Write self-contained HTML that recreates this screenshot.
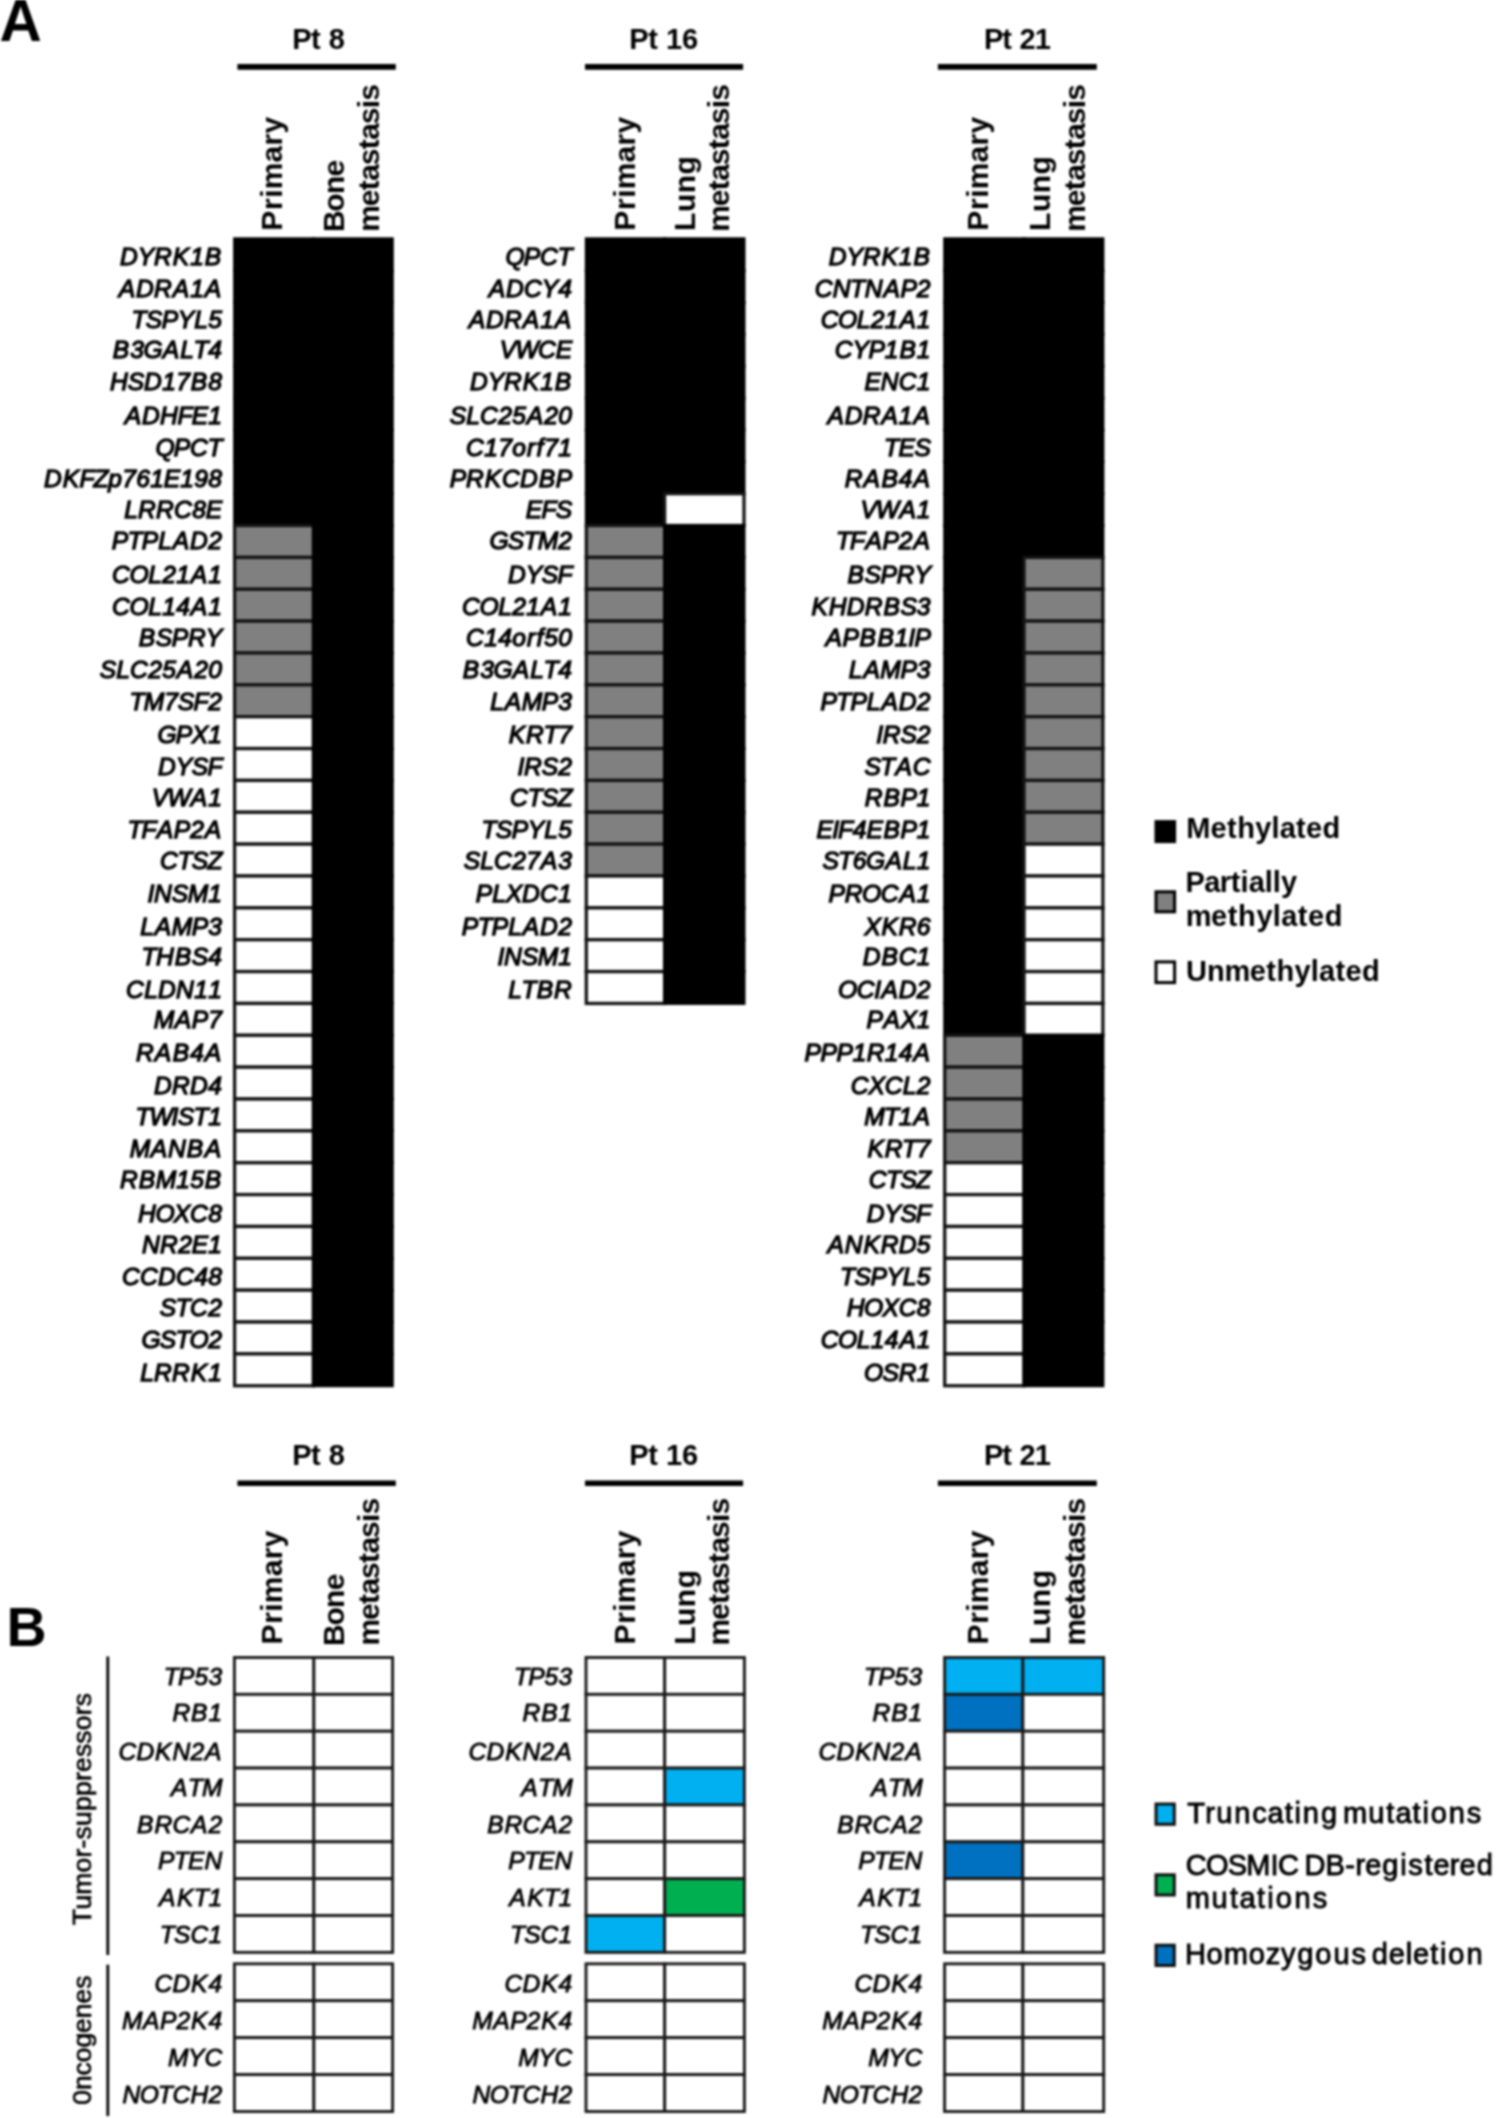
<!DOCTYPE html>
<html lang="en"><head><meta charset="utf-8"><title>Figure</title>
<style>html,body{margin:0;padding:0;background:#fff}svg{display:block;filter:blur(0.8px)}</style></head>
<body>
<svg width="1496" height="2118" viewBox="0 0 1496 2118" font-family="Liberation Sans, Arial, Helvetica, sans-serif" fill="#000">
<rect width="1496" height="2118" fill="#fff"/>
<text x="-0.6" y="41.3" font-size="58.5" font-weight="700">A</text>
<text x="6.4" y="1645.6" font-size="55.5" font-weight="700">B</text>
<text x="292.23 311.07 320.87 328.84" y="48.6" font-size="29" font-weight="700">Pt 8</text>
<line x1="237.4" y1="66.9" x2="395.8" y2="66.9" stroke="#000" stroke-width="5.6"/>
<text transform="translate(281.80,231.14) rotate(-90)" x="0.39 21.20 33.27 41.78 68.61 85.68 97.73" y="0" font-size="30" font-weight="700">Primary</text>
<text transform="translate(344.30,231.14) rotate(-90)" x="-0.99 19.37 37.07 54.62" y="0" font-size="30" font-weight="700">Bone</text>
<text transform="translate(378.50,231.11) rotate(-90)" x="-0.63 24.89 40.94 50.30 65.94 81.99 91.35 106.98 122.89 130.44" y="0" font-size="30" font-weight="700">metastasis</text>
<text x="629.33 648.17 657.97 665.94 681.94" y="48.6" font-size="29" font-weight="700">Pt 16</text>
<line x1="585.0" y1="66.9" x2="743.1" y2="66.9" stroke="#000" stroke-width="5.6"/>
<text transform="translate(635.00,231.14) rotate(-90)" x="0.39 21.20 33.27 41.78 68.61 85.68 97.73" y="0" font-size="30" font-weight="700">Primary</text>
<text transform="translate(694.60,231.14) rotate(-90)" x="0.23 19.03 37.82 56.62" y="0" font-size="30" font-weight="700">Lung</text>
<text transform="translate(729.10,231.11) rotate(-90)" x="-0.63 24.89 40.94 50.30 65.94 81.99 91.35 106.98 122.89 130.44" y="0" font-size="30" font-weight="700">metastasis</text>
<text x="983.99 1002.35 1011.84 1019.39 1034.84" y="48.6" font-size="29" font-weight="700">Pt 21</text>
<line x1="937.9" y1="66.9" x2="1096.8" y2="66.9" stroke="#000" stroke-width="5.6"/>
<text transform="translate(987.50,231.14) rotate(-90)" x="0.39 21.20 33.27 41.78 68.61 85.68 97.73" y="0" font-size="30" font-weight="700">Primary</text>
<text transform="translate(1050.40,231.14) rotate(-90)" x="0.23 19.03 37.82 56.62" y="0" font-size="30" font-weight="700">Lung</text>
<text transform="translate(1084.70,231.11) rotate(-90)" x="-0.63 24.89 40.94 50.30 65.94 81.99 91.35 106.98 122.89 130.44" y="0" font-size="30" font-weight="700">metastasis</text>
<rect x="234.6" y="238.80" width="78.8" height="31.86" fill="#000000" stroke="#000000" stroke-width="3.0"/>
<rect x="234.6" y="270.66" width="78.8" height="31.86" fill="#000000" stroke="#000000" stroke-width="3.0"/>
<rect x="234.6" y="302.52" width="78.8" height="31.86" fill="#000000" stroke="#000000" stroke-width="3.0"/>
<rect x="234.6" y="334.38" width="78.8" height="31.86" fill="#000000" stroke="#000000" stroke-width="3.0"/>
<rect x="234.6" y="366.24" width="78.8" height="31.86" fill="#000000" stroke="#000000" stroke-width="3.0"/>
<rect x="234.6" y="398.10" width="78.8" height="31.86" fill="#000000" stroke="#000000" stroke-width="3.0"/>
<rect x="234.6" y="429.96" width="78.8" height="31.86" fill="#000000" stroke="#000000" stroke-width="3.0"/>
<rect x="234.6" y="461.82" width="78.8" height="31.86" fill="#000000" stroke="#000000" stroke-width="3.0"/>
<rect x="234.6" y="493.68" width="78.8" height="31.86" fill="#000000" stroke="#000000" stroke-width="3.0"/>
<rect x="234.6" y="525.54" width="78.8" height="31.86" fill="#808080" stroke="#141414" stroke-width="3.3"/>
<rect x="234.6" y="557.40" width="78.8" height="31.86" fill="#808080" stroke="#141414" stroke-width="3.3"/>
<rect x="234.6" y="589.26" width="78.8" height="31.86" fill="#808080" stroke="#141414" stroke-width="3.3"/>
<rect x="234.6" y="621.12" width="78.8" height="31.86" fill="#808080" stroke="#141414" stroke-width="3.3"/>
<rect x="234.6" y="652.98" width="78.8" height="31.86" fill="#808080" stroke="#141414" stroke-width="3.3"/>
<rect x="234.6" y="684.84" width="78.8" height="31.86" fill="#808080" stroke="#141414" stroke-width="3.3"/>
<rect x="234.6" y="716.70" width="78.8" height="31.86" fill="#ffffff" stroke="#141414" stroke-width="3.3"/>
<rect x="234.6" y="748.56" width="78.8" height="31.86" fill="#ffffff" stroke="#141414" stroke-width="3.3"/>
<rect x="234.6" y="780.42" width="78.8" height="31.86" fill="#ffffff" stroke="#141414" stroke-width="3.3"/>
<rect x="234.6" y="812.28" width="78.8" height="31.86" fill="#ffffff" stroke="#141414" stroke-width="3.3"/>
<rect x="234.6" y="844.14" width="78.8" height="31.86" fill="#ffffff" stroke="#141414" stroke-width="3.3"/>
<rect x="234.6" y="876.00" width="78.8" height="31.86" fill="#ffffff" stroke="#141414" stroke-width="3.3"/>
<rect x="234.6" y="907.86" width="78.8" height="31.86" fill="#ffffff" stroke="#141414" stroke-width="3.3"/>
<rect x="234.6" y="939.72" width="78.8" height="31.86" fill="#ffffff" stroke="#141414" stroke-width="3.3"/>
<rect x="234.6" y="971.58" width="78.8" height="31.86" fill="#ffffff" stroke="#141414" stroke-width="3.3"/>
<rect x="234.6" y="1003.44" width="78.8" height="31.86" fill="#ffffff" stroke="#141414" stroke-width="3.3"/>
<rect x="234.6" y="1035.30" width="78.8" height="31.86" fill="#ffffff" stroke="#141414" stroke-width="3.3"/>
<rect x="234.6" y="1067.16" width="78.8" height="31.86" fill="#ffffff" stroke="#141414" stroke-width="3.3"/>
<rect x="234.6" y="1099.02" width="78.8" height="31.86" fill="#ffffff" stroke="#141414" stroke-width="3.3"/>
<rect x="234.6" y="1130.88" width="78.8" height="31.86" fill="#ffffff" stroke="#141414" stroke-width="3.3"/>
<rect x="234.6" y="1162.74" width="78.8" height="31.86" fill="#ffffff" stroke="#141414" stroke-width="3.3"/>
<rect x="234.6" y="1194.60" width="78.8" height="31.86" fill="#ffffff" stroke="#141414" stroke-width="3.3"/>
<rect x="234.6" y="1226.46" width="78.8" height="31.86" fill="#ffffff" stroke="#141414" stroke-width="3.3"/>
<rect x="234.6" y="1258.32" width="78.8" height="31.86" fill="#ffffff" stroke="#141414" stroke-width="3.3"/>
<rect x="234.6" y="1290.18" width="78.8" height="31.86" fill="#ffffff" stroke="#141414" stroke-width="3.3"/>
<rect x="234.6" y="1322.04" width="78.8" height="31.86" fill="#ffffff" stroke="#141414" stroke-width="3.3"/>
<rect x="234.6" y="1353.90" width="78.8" height="31.86" fill="#ffffff" stroke="#141414" stroke-width="3.3"/>
<rect x="313.4" y="238.80" width="78.9" height="31.86" fill="#000000" stroke="#000000" stroke-width="3.0"/>
<rect x="313.4" y="270.66" width="78.9" height="31.86" fill="#000000" stroke="#000000" stroke-width="3.0"/>
<rect x="313.4" y="302.52" width="78.9" height="31.86" fill="#000000" stroke="#000000" stroke-width="3.0"/>
<rect x="313.4" y="334.38" width="78.9" height="31.86" fill="#000000" stroke="#000000" stroke-width="3.0"/>
<rect x="313.4" y="366.24" width="78.9" height="31.86" fill="#000000" stroke="#000000" stroke-width="3.0"/>
<rect x="313.4" y="398.10" width="78.9" height="31.86" fill="#000000" stroke="#000000" stroke-width="3.0"/>
<rect x="313.4" y="429.96" width="78.9" height="31.86" fill="#000000" stroke="#000000" stroke-width="3.0"/>
<rect x="313.4" y="461.82" width="78.9" height="31.86" fill="#000000" stroke="#000000" stroke-width="3.0"/>
<rect x="313.4" y="493.68" width="78.9" height="31.86" fill="#000000" stroke="#000000" stroke-width="3.0"/>
<rect x="313.4" y="525.54" width="78.9" height="31.86" fill="#000000" stroke="#000000" stroke-width="3.0"/>
<rect x="313.4" y="557.40" width="78.9" height="31.86" fill="#000000" stroke="#000000" stroke-width="3.0"/>
<rect x="313.4" y="589.26" width="78.9" height="31.86" fill="#000000" stroke="#000000" stroke-width="3.0"/>
<rect x="313.4" y="621.12" width="78.9" height="31.86" fill="#000000" stroke="#000000" stroke-width="3.0"/>
<rect x="313.4" y="652.98" width="78.9" height="31.86" fill="#000000" stroke="#000000" stroke-width="3.0"/>
<rect x="313.4" y="684.84" width="78.9" height="31.86" fill="#000000" stroke="#000000" stroke-width="3.0"/>
<rect x="313.4" y="716.70" width="78.9" height="31.86" fill="#000000" stroke="#000000" stroke-width="3.0"/>
<rect x="313.4" y="748.56" width="78.9" height="31.86" fill="#000000" stroke="#000000" stroke-width="3.0"/>
<rect x="313.4" y="780.42" width="78.9" height="31.86" fill="#000000" stroke="#000000" stroke-width="3.0"/>
<rect x="313.4" y="812.28" width="78.9" height="31.86" fill="#000000" stroke="#000000" stroke-width="3.0"/>
<rect x="313.4" y="844.14" width="78.9" height="31.86" fill="#000000" stroke="#000000" stroke-width="3.0"/>
<rect x="313.4" y="876.00" width="78.9" height="31.86" fill="#000000" stroke="#000000" stroke-width="3.0"/>
<rect x="313.4" y="907.86" width="78.9" height="31.86" fill="#000000" stroke="#000000" stroke-width="3.0"/>
<rect x="313.4" y="939.72" width="78.9" height="31.86" fill="#000000" stroke="#000000" stroke-width="3.0"/>
<rect x="313.4" y="971.58" width="78.9" height="31.86" fill="#000000" stroke="#000000" stroke-width="3.0"/>
<rect x="313.4" y="1003.44" width="78.9" height="31.86" fill="#000000" stroke="#000000" stroke-width="3.0"/>
<rect x="313.4" y="1035.30" width="78.9" height="31.86" fill="#000000" stroke="#000000" stroke-width="3.0"/>
<rect x="313.4" y="1067.16" width="78.9" height="31.86" fill="#000000" stroke="#000000" stroke-width="3.0"/>
<rect x="313.4" y="1099.02" width="78.9" height="31.86" fill="#000000" stroke="#000000" stroke-width="3.0"/>
<rect x="313.4" y="1130.88" width="78.9" height="31.86" fill="#000000" stroke="#000000" stroke-width="3.0"/>
<rect x="313.4" y="1162.74" width="78.9" height="31.86" fill="#000000" stroke="#000000" stroke-width="3.0"/>
<rect x="313.4" y="1194.60" width="78.9" height="31.86" fill="#000000" stroke="#000000" stroke-width="3.0"/>
<rect x="313.4" y="1226.46" width="78.9" height="31.86" fill="#000000" stroke="#000000" stroke-width="3.0"/>
<rect x="313.4" y="1258.32" width="78.9" height="31.86" fill="#000000" stroke="#000000" stroke-width="3.0"/>
<rect x="313.4" y="1290.18" width="78.9" height="31.86" fill="#000000" stroke="#000000" stroke-width="3.0"/>
<rect x="313.4" y="1322.04" width="78.9" height="31.86" fill="#000000" stroke="#000000" stroke-width="3.0"/>
<rect x="313.4" y="1353.90" width="78.9" height="31.86" fill="#000000" stroke="#000000" stroke-width="3.0"/>
<text x="120.12 137.80 154.12 172.80 190.16 204.80" y="265.0" font-size="24.6" font-weight="400" font-style="italic" stroke="#000" stroke-width="1.3">DYRK1B</text>
<text x="118.80 136.12 154.12 172.80 190.16 204.80" y="296.6" font-size="24.6" font-weight="400" font-style="italic" stroke="#000" stroke-width="1.3">ADRA1A</text>
<text x="131.49 145.80 161.80 177.80 194.16 208.16" y="327.7" font-size="24.6" font-weight="400" font-style="italic" stroke="#000" stroke-width="1.3">TSPYL5</text>
<text x="112.80 130.16 143.43 162.80 180.16 193.49 208.16" y="358.3" font-size="24.6" font-weight="400" font-style="italic" stroke="#000" stroke-width="1.3">B3GALT4</text>
<text x="110.12 127.80 144.12 162.16 176.16 190.80 208.16" y="390.4" font-size="24.6" font-weight="400" font-style="italic" stroke="#000" stroke-width="1.3">HSD17B8</text>
<text x="124.80 142.12 160.12 177.49 191.80 208.16" y="424.1" font-size="24.6" font-weight="400" font-style="italic" stroke="#000" stroke-width="1.3">ADHFE1</text>
<text x="155.43 173.80 190.12 207.49" y="455.6" font-size="24.6" font-weight="400" font-style="italic" stroke="#000" stroke-width="1.3">QPCT</text>
<text x="44.12 62.80 79.49 93.49 108.16 122.16 136.16 150.16 163.80 180.16 194.16 208.16" y="486.7" font-size="24.6" font-weight="400" font-style="italic" stroke="#000" stroke-width="1.3">DKFZp761E198</text>
<text x="124.16 138.12 156.12 174.12 192.16 205.80" y="518.4" font-size="24.6" font-weight="400" font-style="italic" stroke="#000" stroke-width="1.3">LRRC8E</text>
<text x="111.80 127.49 141.80 158.16 172.80 190.12 208.16" y="548.8" font-size="24.6" font-weight="400" font-style="italic" stroke="#000" stroke-width="1.3">PTPLAD2</text>
<text x="112.12 129.43 148.16 162.16 176.16 190.80 208.16" y="583.3" font-size="24.6" font-weight="400" font-style="italic" stroke="#000" stroke-width="1.3">COL21A1</text>
<text x="112.12 129.43 148.16 162.16 176.16 190.80 208.16" y="615.4" font-size="24.6" font-weight="400" font-style="italic" stroke="#000" stroke-width="1.3">COL14A1</text>
<text x="138.80 155.80 171.80 188.12 205.80" y="646.0" font-size="24.6" font-weight="400" font-style="italic" stroke="#000" stroke-width="1.3">BSPRY</text>
<text x="99.80 116.16 130.12 148.16 162.16 176.80 194.16 208.16" y="678.1" font-size="24.6" font-weight="400" font-style="italic" stroke="#000" stroke-width="1.3">SLC25A20</text>
<text x="129.49 143.75 164.16 177.80 193.49 208.16" y="709.8" font-size="24.6" font-weight="400" font-style="italic" stroke="#000" stroke-width="1.3">TM7SF2</text>
<text x="157.43 175.80 191.80 208.16" y="743.3" font-size="24.6" font-weight="400" font-style="italic" stroke="#000" stroke-width="1.3">GPX1</text>
<text x="158.12 175.80 191.80 207.49" y="774.7" font-size="24.6" font-weight="400" font-style="italic" stroke="#000" stroke-width="1.3">DYSF</text>
<text x="151.80 167.39 190.80 208.16" y="806.0" font-size="24.6" font-weight="400" font-style="italic" stroke="#000" stroke-width="1.3">VWA1</text>
<text x="127.49 141.49 156.80 173.80 190.16 204.80" y="837.5" font-size="24.6" font-weight="400" font-style="italic" stroke="#000" stroke-width="1.3">TFAP2A</text>
<text x="160.12 177.49 191.80 207.49" y="868.6" font-size="24.6" font-weight="400" font-style="italic" stroke="#000" stroke-width="1.3">CTSZ</text>
<text x="147.58 154.12 171.80 187.75 208.16" y="902.3" font-size="24.6" font-weight="400" font-style="italic" stroke="#000" stroke-width="1.3">INSM1</text>
<text x="140.16 154.80 171.75 191.80 208.16" y="934.8" font-size="24.6" font-weight="400" font-style="italic" stroke="#000" stroke-width="1.3">LAMP3</text>
<text x="141.49 156.12 174.80 191.80 208.16" y="964.8" font-size="24.6" font-weight="400" font-style="italic" stroke="#000" stroke-width="1.3">THBS4</text>
<text x="126.12 144.16 158.12 176.12 194.16 208.16" y="997.9" font-size="24.6" font-weight="400" font-style="italic" stroke="#000" stroke-width="1.3">CLDN11</text>
<text x="153.75 174.80 191.80 208.16" y="1028.0" font-size="24.6" font-weight="400" font-style="italic" stroke="#000" stroke-width="1.3">MAP7</text>
<text x="136.12 154.80 172.80 190.16 204.80" y="1061.4" font-size="24.6" font-weight="400" font-style="italic" stroke="#000" stroke-width="1.3">RAB4A</text>
<text x="154.12 172.12 190.12 208.16" y="1093.7" font-size="24.6" font-weight="400" font-style="italic" stroke="#000" stroke-width="1.3">DRD4</text>
<text x="135.49 149.39 171.58 177.80 193.49 208.16" y="1125.2" font-size="24.6" font-weight="400" font-style="italic" stroke="#000" stroke-width="1.3">TWIST1</text>
<text x="129.75 150.80 168.12 186.80 204.80" y="1156.7" font-size="24.6" font-weight="400" font-style="italic" stroke="#000" stroke-width="1.3">MANBA</text>
<text x="120.12 138.80 155.75 176.16 190.16 204.80" y="1188.4" font-size="24.6" font-weight="400" font-style="italic" stroke="#000" stroke-width="1.3">RBM15B</text>
<text x="138.12 155.43 173.80 190.12 208.16" y="1221.5" font-size="24.6" font-weight="400" font-style="italic" stroke="#000" stroke-width="1.3">HOXC8</text>
<text x="142.12 160.12 178.16 191.80 208.16" y="1253.0" font-size="24.6" font-weight="400" font-style="italic" stroke="#000" stroke-width="1.3">NR2E1</text>
<text x="122.12 140.12 158.12 176.12 194.16 208.16" y="1284.6" font-size="24.6" font-weight="400" font-style="italic" stroke="#000" stroke-width="1.3">CCDC48</text>
<text x="159.80 175.49 190.12 208.16" y="1315.7" font-size="24.6" font-weight="400" font-style="italic" stroke="#000" stroke-width="1.3">STC2</text>
<text x="141.43 159.80 175.49 189.43 208.16" y="1347.8" font-size="24.6" font-weight="400" font-style="italic" stroke="#000" stroke-width="1.3">GSTO2</text>
<text x="140.16 154.12 172.12 190.80 208.16" y="1380.9" font-size="24.6" font-weight="400" font-style="italic" stroke="#000" stroke-width="1.3">LRRK1</text>
<rect x="586.3" y="238.80" width="78.3" height="31.86" fill="#000000" stroke="#000000" stroke-width="3.0"/>
<rect x="586.3" y="270.66" width="78.3" height="31.86" fill="#000000" stroke="#000000" stroke-width="3.0"/>
<rect x="586.3" y="302.52" width="78.3" height="31.86" fill="#000000" stroke="#000000" stroke-width="3.0"/>
<rect x="586.3" y="334.38" width="78.3" height="31.86" fill="#000000" stroke="#000000" stroke-width="3.0"/>
<rect x="586.3" y="366.24" width="78.3" height="31.86" fill="#000000" stroke="#000000" stroke-width="3.0"/>
<rect x="586.3" y="398.10" width="78.3" height="31.86" fill="#000000" stroke="#000000" stroke-width="3.0"/>
<rect x="586.3" y="429.96" width="78.3" height="31.86" fill="#000000" stroke="#000000" stroke-width="3.0"/>
<rect x="586.3" y="461.82" width="78.3" height="31.86" fill="#000000" stroke="#000000" stroke-width="3.0"/>
<rect x="586.3" y="493.68" width="78.3" height="31.86" fill="#000000" stroke="#000000" stroke-width="3.0"/>
<rect x="586.3" y="525.54" width="78.3" height="31.86" fill="#808080" stroke="#141414" stroke-width="3.3"/>
<rect x="586.3" y="557.40" width="78.3" height="31.86" fill="#808080" stroke="#141414" stroke-width="3.3"/>
<rect x="586.3" y="589.26" width="78.3" height="31.86" fill="#808080" stroke="#141414" stroke-width="3.3"/>
<rect x="586.3" y="621.12" width="78.3" height="31.86" fill="#808080" stroke="#141414" stroke-width="3.3"/>
<rect x="586.3" y="652.98" width="78.3" height="31.86" fill="#808080" stroke="#141414" stroke-width="3.3"/>
<rect x="586.3" y="684.84" width="78.3" height="31.86" fill="#808080" stroke="#141414" stroke-width="3.3"/>
<rect x="586.3" y="716.70" width="78.3" height="31.86" fill="#808080" stroke="#141414" stroke-width="3.3"/>
<rect x="586.3" y="748.56" width="78.3" height="31.86" fill="#808080" stroke="#141414" stroke-width="3.3"/>
<rect x="586.3" y="780.42" width="78.3" height="31.86" fill="#808080" stroke="#141414" stroke-width="3.3"/>
<rect x="586.3" y="812.28" width="78.3" height="31.86" fill="#808080" stroke="#141414" stroke-width="3.3"/>
<rect x="586.3" y="844.14" width="78.3" height="31.86" fill="#808080" stroke="#141414" stroke-width="3.3"/>
<rect x="586.3" y="876.00" width="78.3" height="31.86" fill="#ffffff" stroke="#141414" stroke-width="3.3"/>
<rect x="586.3" y="907.86" width="78.3" height="31.86" fill="#ffffff" stroke="#141414" stroke-width="3.3"/>
<rect x="586.3" y="939.72" width="78.3" height="31.86" fill="#ffffff" stroke="#141414" stroke-width="3.3"/>
<rect x="586.3" y="971.58" width="78.3" height="31.86" fill="#ffffff" stroke="#141414" stroke-width="3.3"/>
<rect x="664.6" y="238.80" width="79.4" height="31.86" fill="#000000" stroke="#000000" stroke-width="3.0"/>
<rect x="664.6" y="270.66" width="79.4" height="31.86" fill="#000000" stroke="#000000" stroke-width="3.0"/>
<rect x="664.6" y="302.52" width="79.4" height="31.86" fill="#000000" stroke="#000000" stroke-width="3.0"/>
<rect x="664.6" y="334.38" width="79.4" height="31.86" fill="#000000" stroke="#000000" stroke-width="3.0"/>
<rect x="664.6" y="366.24" width="79.4" height="31.86" fill="#000000" stroke="#000000" stroke-width="3.0"/>
<rect x="664.6" y="398.10" width="79.4" height="31.86" fill="#000000" stroke="#000000" stroke-width="3.0"/>
<rect x="664.6" y="429.96" width="79.4" height="31.86" fill="#000000" stroke="#000000" stroke-width="3.0"/>
<rect x="664.6" y="461.82" width="79.4" height="31.86" fill="#000000" stroke="#000000" stroke-width="3.0"/>
<rect x="664.6" y="493.68" width="79.4" height="31.86" fill="#ffffff" stroke="#141414" stroke-width="3.3"/>
<rect x="664.6" y="525.54" width="79.4" height="31.86" fill="#000000" stroke="#000000" stroke-width="3.0"/>
<rect x="664.6" y="557.40" width="79.4" height="31.86" fill="#000000" stroke="#000000" stroke-width="3.0"/>
<rect x="664.6" y="589.26" width="79.4" height="31.86" fill="#000000" stroke="#000000" stroke-width="3.0"/>
<rect x="664.6" y="621.12" width="79.4" height="31.86" fill="#000000" stroke="#000000" stroke-width="3.0"/>
<rect x="664.6" y="652.98" width="79.4" height="31.86" fill="#000000" stroke="#000000" stroke-width="3.0"/>
<rect x="664.6" y="684.84" width="79.4" height="31.86" fill="#000000" stroke="#000000" stroke-width="3.0"/>
<rect x="664.6" y="716.70" width="79.4" height="31.86" fill="#000000" stroke="#000000" stroke-width="3.0"/>
<rect x="664.6" y="748.56" width="79.4" height="31.86" fill="#000000" stroke="#000000" stroke-width="3.0"/>
<rect x="664.6" y="780.42" width="79.4" height="31.86" fill="#000000" stroke="#000000" stroke-width="3.0"/>
<rect x="664.6" y="812.28" width="79.4" height="31.86" fill="#000000" stroke="#000000" stroke-width="3.0"/>
<rect x="664.6" y="844.14" width="79.4" height="31.86" fill="#000000" stroke="#000000" stroke-width="3.0"/>
<rect x="664.6" y="876.00" width="79.4" height="31.86" fill="#000000" stroke="#000000" stroke-width="3.0"/>
<rect x="664.6" y="907.86" width="79.4" height="31.86" fill="#000000" stroke="#000000" stroke-width="3.0"/>
<rect x="664.6" y="939.72" width="79.4" height="31.86" fill="#000000" stroke="#000000" stroke-width="3.0"/>
<rect x="664.6" y="971.58" width="79.4" height="31.86" fill="#000000" stroke="#000000" stroke-width="3.0"/>
<text x="505.43 523.80 540.12 557.49" y="265.0" font-size="24.6" font-weight="400" font-style="italic" stroke="#000" stroke-width="1.3">QPCT</text>
<text x="488.80 506.12 524.12 541.80 558.16" y="296.6" font-size="24.6" font-weight="400" font-style="italic" stroke="#000" stroke-width="1.3">ADCY4</text>
<text x="468.80 486.12 504.12 522.80 540.16 554.80" y="327.7" font-size="24.6" font-weight="400" font-style="italic" stroke="#000" stroke-width="1.3">ADRA1A</text>
<text x="499.80 515.39 538.12 555.80" y="358.3" font-size="24.6" font-weight="400" font-style="italic" stroke="#000" stroke-width="1.3">VWCE</text>
<text x="470.12 487.80 504.12 522.80 540.16 554.80" y="390.4" font-size="24.6" font-weight="400" font-style="italic" stroke="#000" stroke-width="1.3">DYRK1B</text>
<text x="449.80 466.16 480.12 498.16 512.16 526.80 544.16 558.16" y="424.1" font-size="24.6" font-weight="400" font-style="italic" stroke="#000" stroke-width="1.3">SLC25A20</text>
<text x="466.12 484.16 498.16 512.16 526.90 536.58 544.16 558.16" y="455.6" font-size="24.6" font-weight="400" font-style="italic" stroke="#000" stroke-width="1.3">C17orf71</text>
<text x="449.80 466.12 484.80 502.12 520.12 538.80 555.80" y="486.7" font-size="24.6" font-weight="400" font-style="italic" stroke="#000" stroke-width="1.3">PRKCDBP</text>
<text x="525.80 541.49 555.80" y="518.4" font-size="24.6" font-weight="400" font-style="italic" stroke="#000" stroke-width="1.3">EFS</text>
<text x="489.43 507.80 523.49 537.75 558.16" y="548.8" font-size="24.6" font-weight="400" font-style="italic" stroke="#000" stroke-width="1.3">GSTM2</text>
<text x="508.12 525.80 541.80 557.49" y="583.3" font-size="24.6" font-weight="400" font-style="italic" stroke="#000" stroke-width="1.3">DYSF</text>
<text x="462.12 479.43 498.16 512.16 526.16 540.80 558.16" y="615.4" font-size="24.6" font-weight="400" font-style="italic" stroke="#000" stroke-width="1.3">COL21A1</text>
<text x="466.12 484.16 498.16 512.16 526.90 536.58 544.16 558.16" y="646.0" font-size="24.6" font-weight="400" font-style="italic" stroke="#000" stroke-width="1.3">C14orf50</text>
<text x="462.80 480.16 493.43 512.80 530.16 543.49 558.16" y="678.1" font-size="24.6" font-weight="400" font-style="italic" stroke="#000" stroke-width="1.3">B3GALT4</text>
<text x="490.16 504.80 521.75 541.80 558.16" y="709.8" font-size="24.6" font-weight="400" font-style="italic" stroke="#000" stroke-width="1.3">LAMP3</text>
<text x="508.80 526.12 543.49 558.16" y="743.3" font-size="24.6" font-weight="400" font-style="italic" stroke="#000" stroke-width="1.3">KRT7</text>
<text x="517.58 524.12 541.80 558.16" y="774.7" font-size="24.6" font-weight="400" font-style="italic" stroke="#000" stroke-width="1.3">IRS2</text>
<text x="510.12 527.49 541.80 557.49" y="806.0" font-size="24.6" font-weight="400" font-style="italic" stroke="#000" stroke-width="1.3">CTSZ</text>
<text x="481.49 495.80 511.80 527.80 544.16 558.16" y="837.5" font-size="24.6" font-weight="400" font-style="italic" stroke="#000" stroke-width="1.3">TSPYL5</text>
<text x="463.80 480.16 494.12 512.16 526.16 540.80 558.16" y="868.6" font-size="24.6" font-weight="400" font-style="italic" stroke="#000" stroke-width="1.3">SLC27A3</text>
<text x="475.80 492.16 505.80 522.12 540.12 558.16" y="902.3" font-size="24.6" font-weight="400" font-style="italic" stroke="#000" stroke-width="1.3">PLXDC1</text>
<text x="461.80 477.49 491.80 508.16 522.80 540.12 558.16" y="934.8" font-size="24.6" font-weight="400" font-style="italic" stroke="#000" stroke-width="1.3">PTPLAD2</text>
<text x="497.58 504.12 521.80 537.75 558.16" y="964.8" font-size="24.6" font-weight="400" font-style="italic" stroke="#000" stroke-width="1.3">INSM1</text>
<text x="508.16 521.49 536.80 554.12" y="997.9" font-size="24.6" font-weight="400" font-style="italic" stroke="#000" stroke-width="1.3">LTBR</text>
<rect x="944.7" y="238.80" width="79.3" height="31.86" fill="#000000" stroke="#000000" stroke-width="3.0"/>
<rect x="944.7" y="270.66" width="79.3" height="31.86" fill="#000000" stroke="#000000" stroke-width="3.0"/>
<rect x="944.7" y="302.52" width="79.3" height="31.86" fill="#000000" stroke="#000000" stroke-width="3.0"/>
<rect x="944.7" y="334.38" width="79.3" height="31.86" fill="#000000" stroke="#000000" stroke-width="3.0"/>
<rect x="944.7" y="366.24" width="79.3" height="31.86" fill="#000000" stroke="#000000" stroke-width="3.0"/>
<rect x="944.7" y="398.10" width="79.3" height="31.86" fill="#000000" stroke="#000000" stroke-width="3.0"/>
<rect x="944.7" y="429.96" width="79.3" height="31.86" fill="#000000" stroke="#000000" stroke-width="3.0"/>
<rect x="944.7" y="461.82" width="79.3" height="31.86" fill="#000000" stroke="#000000" stroke-width="3.0"/>
<rect x="944.7" y="493.68" width="79.3" height="31.86" fill="#000000" stroke="#000000" stroke-width="3.0"/>
<rect x="944.7" y="525.54" width="79.3" height="31.86" fill="#000000" stroke="#000000" stroke-width="3.0"/>
<rect x="944.7" y="557.40" width="79.3" height="31.86" fill="#000000" stroke="#000000" stroke-width="3.0"/>
<rect x="944.7" y="589.26" width="79.3" height="31.86" fill="#000000" stroke="#000000" stroke-width="3.0"/>
<rect x="944.7" y="621.12" width="79.3" height="31.86" fill="#000000" stroke="#000000" stroke-width="3.0"/>
<rect x="944.7" y="652.98" width="79.3" height="31.86" fill="#000000" stroke="#000000" stroke-width="3.0"/>
<rect x="944.7" y="684.84" width="79.3" height="31.86" fill="#000000" stroke="#000000" stroke-width="3.0"/>
<rect x="944.7" y="716.70" width="79.3" height="31.86" fill="#000000" stroke="#000000" stroke-width="3.0"/>
<rect x="944.7" y="748.56" width="79.3" height="31.86" fill="#000000" stroke="#000000" stroke-width="3.0"/>
<rect x="944.7" y="780.42" width="79.3" height="31.86" fill="#000000" stroke="#000000" stroke-width="3.0"/>
<rect x="944.7" y="812.28" width="79.3" height="31.86" fill="#000000" stroke="#000000" stroke-width="3.0"/>
<rect x="944.7" y="844.14" width="79.3" height="31.86" fill="#000000" stroke="#000000" stroke-width="3.0"/>
<rect x="944.7" y="876.00" width="79.3" height="31.86" fill="#000000" stroke="#000000" stroke-width="3.0"/>
<rect x="944.7" y="907.86" width="79.3" height="31.86" fill="#000000" stroke="#000000" stroke-width="3.0"/>
<rect x="944.7" y="939.72" width="79.3" height="31.86" fill="#000000" stroke="#000000" stroke-width="3.0"/>
<rect x="944.7" y="971.58" width="79.3" height="31.86" fill="#000000" stroke="#000000" stroke-width="3.0"/>
<rect x="944.7" y="1003.44" width="79.3" height="31.86" fill="#000000" stroke="#000000" stroke-width="3.0"/>
<rect x="944.7" y="1035.30" width="79.3" height="31.86" fill="#808080" stroke="#141414" stroke-width="3.3"/>
<rect x="944.7" y="1067.16" width="79.3" height="31.86" fill="#808080" stroke="#141414" stroke-width="3.3"/>
<rect x="944.7" y="1099.02" width="79.3" height="31.86" fill="#808080" stroke="#141414" stroke-width="3.3"/>
<rect x="944.7" y="1130.88" width="79.3" height="31.86" fill="#808080" stroke="#141414" stroke-width="3.3"/>
<rect x="944.7" y="1162.74" width="79.3" height="31.86" fill="#ffffff" stroke="#141414" stroke-width="3.3"/>
<rect x="944.7" y="1194.60" width="79.3" height="31.86" fill="#ffffff" stroke="#141414" stroke-width="3.3"/>
<rect x="944.7" y="1226.46" width="79.3" height="31.86" fill="#ffffff" stroke="#141414" stroke-width="3.3"/>
<rect x="944.7" y="1258.32" width="79.3" height="31.86" fill="#ffffff" stroke="#141414" stroke-width="3.3"/>
<rect x="944.7" y="1290.18" width="79.3" height="31.86" fill="#ffffff" stroke="#141414" stroke-width="3.3"/>
<rect x="944.7" y="1322.04" width="79.3" height="31.86" fill="#ffffff" stroke="#141414" stroke-width="3.3"/>
<rect x="944.7" y="1353.90" width="79.3" height="31.86" fill="#ffffff" stroke="#141414" stroke-width="3.3"/>
<rect x="1024.0" y="238.80" width="78.9" height="31.86" fill="#000000" stroke="#000000" stroke-width="3.0"/>
<rect x="1024.0" y="270.66" width="78.9" height="31.86" fill="#000000" stroke="#000000" stroke-width="3.0"/>
<rect x="1024.0" y="302.52" width="78.9" height="31.86" fill="#000000" stroke="#000000" stroke-width="3.0"/>
<rect x="1024.0" y="334.38" width="78.9" height="31.86" fill="#000000" stroke="#000000" stroke-width="3.0"/>
<rect x="1024.0" y="366.24" width="78.9" height="31.86" fill="#000000" stroke="#000000" stroke-width="3.0"/>
<rect x="1024.0" y="398.10" width="78.9" height="31.86" fill="#000000" stroke="#000000" stroke-width="3.0"/>
<rect x="1024.0" y="429.96" width="78.9" height="31.86" fill="#000000" stroke="#000000" stroke-width="3.0"/>
<rect x="1024.0" y="461.82" width="78.9" height="31.86" fill="#000000" stroke="#000000" stroke-width="3.0"/>
<rect x="1024.0" y="493.68" width="78.9" height="31.86" fill="#000000" stroke="#000000" stroke-width="3.0"/>
<rect x="1024.0" y="525.54" width="78.9" height="31.86" fill="#000000" stroke="#000000" stroke-width="3.0"/>
<rect x="1024.0" y="557.40" width="78.9" height="31.86" fill="#808080" stroke="#141414" stroke-width="3.3"/>
<rect x="1024.0" y="589.26" width="78.9" height="31.86" fill="#808080" stroke="#141414" stroke-width="3.3"/>
<rect x="1024.0" y="621.12" width="78.9" height="31.86" fill="#808080" stroke="#141414" stroke-width="3.3"/>
<rect x="1024.0" y="652.98" width="78.9" height="31.86" fill="#808080" stroke="#141414" stroke-width="3.3"/>
<rect x="1024.0" y="684.84" width="78.9" height="31.86" fill="#808080" stroke="#141414" stroke-width="3.3"/>
<rect x="1024.0" y="716.70" width="78.9" height="31.86" fill="#808080" stroke="#141414" stroke-width="3.3"/>
<rect x="1024.0" y="748.56" width="78.9" height="31.86" fill="#808080" stroke="#141414" stroke-width="3.3"/>
<rect x="1024.0" y="780.42" width="78.9" height="31.86" fill="#808080" stroke="#141414" stroke-width="3.3"/>
<rect x="1024.0" y="812.28" width="78.9" height="31.86" fill="#808080" stroke="#141414" stroke-width="3.3"/>
<rect x="1024.0" y="844.14" width="78.9" height="31.86" fill="#ffffff" stroke="#141414" stroke-width="3.3"/>
<rect x="1024.0" y="876.00" width="78.9" height="31.86" fill="#ffffff" stroke="#141414" stroke-width="3.3"/>
<rect x="1024.0" y="907.86" width="78.9" height="31.86" fill="#ffffff" stroke="#141414" stroke-width="3.3"/>
<rect x="1024.0" y="939.72" width="78.9" height="31.86" fill="#ffffff" stroke="#141414" stroke-width="3.3"/>
<rect x="1024.0" y="971.58" width="78.9" height="31.86" fill="#ffffff" stroke="#141414" stroke-width="3.3"/>
<rect x="1024.0" y="1003.44" width="78.9" height="31.86" fill="#ffffff" stroke="#141414" stroke-width="3.3"/>
<rect x="1024.0" y="1035.30" width="78.9" height="31.86" fill="#000000" stroke="#000000" stroke-width="3.0"/>
<rect x="1024.0" y="1067.16" width="78.9" height="31.86" fill="#000000" stroke="#000000" stroke-width="3.0"/>
<rect x="1024.0" y="1099.02" width="78.9" height="31.86" fill="#000000" stroke="#000000" stroke-width="3.0"/>
<rect x="1024.0" y="1130.88" width="78.9" height="31.86" fill="#000000" stroke="#000000" stroke-width="3.0"/>
<rect x="1024.0" y="1162.74" width="78.9" height="31.86" fill="#000000" stroke="#000000" stroke-width="3.0"/>
<rect x="1024.0" y="1194.60" width="78.9" height="31.86" fill="#000000" stroke="#000000" stroke-width="3.0"/>
<rect x="1024.0" y="1226.46" width="78.9" height="31.86" fill="#000000" stroke="#000000" stroke-width="3.0"/>
<rect x="1024.0" y="1258.32" width="78.9" height="31.86" fill="#000000" stroke="#000000" stroke-width="3.0"/>
<rect x="1024.0" y="1290.18" width="78.9" height="31.86" fill="#000000" stroke="#000000" stroke-width="3.0"/>
<rect x="1024.0" y="1322.04" width="78.9" height="31.86" fill="#000000" stroke="#000000" stroke-width="3.0"/>
<rect x="1024.0" y="1353.90" width="78.9" height="31.86" fill="#000000" stroke="#000000" stroke-width="3.0"/>
<text x="828.72 846.40 862.72 881.40 898.76 913.40" y="265.0" font-size="24.6" font-weight="400" font-style="italic" stroke="#000" stroke-width="1.3">DYRK1B</text>
<text x="814.72 832.72 850.09 864.72 883.40 900.40 916.76" y="296.6" font-size="24.6" font-weight="400" font-style="italic" stroke="#000" stroke-width="1.3">CNTNAP2</text>
<text x="820.72 838.03 856.76 870.76 884.76 899.40 916.76" y="327.7" font-size="24.6" font-weight="400" font-style="italic" stroke="#000" stroke-width="1.3">COL21A1</text>
<text x="834.72 852.40 868.40 884.76 899.40 916.76" y="358.3" font-size="24.6" font-weight="400" font-style="italic" stroke="#000" stroke-width="1.3">CYP1B1</text>
<text x="864.40 880.72 898.72 916.76" y="390.4" font-size="24.6" font-weight="400" font-style="italic" stroke="#000" stroke-width="1.3">ENC1</text>
<text x="827.40 844.72 862.72 881.40 898.76 913.40" y="424.1" font-size="24.6" font-weight="400" font-style="italic" stroke="#000" stroke-width="1.3">ADRA1A</text>
<text x="884.09 898.40 914.40" y="455.6" font-size="24.6" font-weight="400" font-style="italic" stroke="#000" stroke-width="1.3">TES</text>
<text x="844.72 863.40 881.40 898.76 913.40" y="486.7" font-size="24.6" font-weight="400" font-style="italic" stroke="#000" stroke-width="1.3">RAB4A</text>
<text x="860.40 875.99 899.40 916.76" y="518.4" font-size="24.6" font-weight="400" font-style="italic" stroke="#000" stroke-width="1.3">VWA1</text>
<text x="836.09 850.09 865.40 882.40 898.76 913.40" y="548.8" font-size="24.6" font-weight="400" font-style="italic" stroke="#000" stroke-width="1.3">TFAP2A</text>
<text x="847.40 864.40 880.40 896.72 914.40" y="583.3" font-size="24.6" font-weight="400" font-style="italic" stroke="#000" stroke-width="1.3">BSPRY</text>
<text x="811.40 828.72 846.72 864.72 883.40 900.40 916.76" y="615.4" font-size="24.6" font-weight="400" font-style="italic" stroke="#000" stroke-width="1.3">KHDRBS3</text>
<text x="825.40 842.40 859.40 877.40 894.76 908.18 914.40" y="646.0" font-size="24.6" font-weight="400" font-style="italic" stroke="#000" stroke-width="1.3">APBB1IP</text>
<text x="848.76 863.40 880.35 900.40 916.76" y="678.1" font-size="24.6" font-weight="400" font-style="italic" stroke="#000" stroke-width="1.3">LAMP3</text>
<text x="820.40 836.09 850.40 866.76 881.40 898.72 916.76" y="709.8" font-size="24.6" font-weight="400" font-style="italic" stroke="#000" stroke-width="1.3">PTPLAD2</text>
<text x="876.18 882.72 900.40 916.76" y="743.3" font-size="24.6" font-weight="400" font-style="italic" stroke="#000" stroke-width="1.3">IRS2</text>
<text x="864.40 880.09 895.40 912.72" y="774.7" font-size="24.6" font-weight="400" font-style="italic" stroke="#000" stroke-width="1.3">STAC</text>
<text x="864.72 883.40 900.40 916.76" y="806.0" font-size="24.6" font-weight="400" font-style="italic" stroke="#000" stroke-width="1.3">RBP1</text>
<text x="816.40 832.18 838.09 852.76 866.40 883.40 900.40 916.76" y="837.5" font-size="24.6" font-weight="400" font-style="italic" stroke="#000" stroke-width="1.3">EIF4EBP1</text>
<text x="822.40 838.09 852.76 866.03 885.40 902.76 916.76" y="868.6" font-size="24.6" font-weight="400" font-style="italic" stroke="#000" stroke-width="1.3">ST6GAL1</text>
<text x="828.40 844.72 862.03 880.72 899.40 916.76" y="902.3" font-size="24.6" font-weight="400" font-style="italic" stroke="#000" stroke-width="1.3">PROCA1</text>
<text x="864.40 881.40 898.72 916.76" y="934.8" font-size="24.6" font-weight="400" font-style="italic" stroke="#000" stroke-width="1.3">XKR6</text>
<text x="862.72 881.40 898.72 916.76" y="964.8" font-size="24.6" font-weight="400" font-style="italic" stroke="#000" stroke-width="1.3">DBC1</text>
<text x="838.03 856.72 874.18 881.40 898.72 916.76" y="997.9" font-size="24.6" font-weight="400" font-style="italic" stroke="#000" stroke-width="1.3">OCIAD2</text>
<text x="866.40 883.40 900.40 916.76" y="1028.0" font-size="24.6" font-weight="400" font-style="italic" stroke="#000" stroke-width="1.3">PAX1</text>
<text x="804.40 820.40 836.40 852.76 866.72 884.76 898.76 913.40" y="1061.4" font-size="24.6" font-weight="400" font-style="italic" stroke="#000" stroke-width="1.3">PPP1R14A</text>
<text x="850.72 868.40 884.72 902.76 916.76" y="1093.7" font-size="24.6" font-weight="400" font-style="italic" stroke="#000" stroke-width="1.3">CXCL2</text>
<text x="864.35 884.09 898.76 913.40" y="1125.2" font-size="24.6" font-weight="400" font-style="italic" stroke="#000" stroke-width="1.3">MT1A</text>
<text x="867.40 884.72 902.09 916.76" y="1156.7" font-size="24.6" font-weight="400" font-style="italic" stroke="#000" stroke-width="1.3">KRT7</text>
<text x="868.72 886.09 900.40 916.09" y="1188.4" font-size="24.6" font-weight="400" font-style="italic" stroke="#000" stroke-width="1.3">CTSZ</text>
<text x="866.72 884.40 900.40 916.09" y="1221.5" font-size="24.6" font-weight="400" font-style="italic" stroke="#000" stroke-width="1.3">DYSF</text>
<text x="827.40 844.72 863.40 880.72 898.72 916.76" y="1253.0" font-size="24.6" font-weight="400" font-style="italic" stroke="#000" stroke-width="1.3">ANKRD5</text>
<text x="840.09 854.40 870.40 886.40 902.76 916.76" y="1284.6" font-size="24.6" font-weight="400" font-style="italic" stroke="#000" stroke-width="1.3">TSPYL5</text>
<text x="846.72 864.03 882.40 898.72 916.76" y="1315.7" font-size="24.6" font-weight="400" font-style="italic" stroke="#000" stroke-width="1.3">HOXC8</text>
<text x="820.72 838.03 856.76 870.76 884.76 899.40 916.76" y="1347.8" font-size="24.6" font-weight="400" font-style="italic" stroke="#000" stroke-width="1.3">COL14A1</text>
<text x="864.03 882.40 898.72 916.76" y="1380.9" font-size="24.6" font-weight="400" font-style="italic" stroke="#000" stroke-width="1.3">OSR1</text>
<rect x="1156.0" y="821.6" width="18.6" height="20.0" fill="#000000" stroke="#000" stroke-width="3"/>
<rect x="1156.0" y="891.8" width="18.6" height="20.0" fill="#808080" stroke="#000" stroke-width="3"/>
<rect x="1156.0" y="961.9" width="18.6" height="20.7" fill="#ffffff" stroke="#000" stroke-width="3"/>
<text x="1186.24 1210.57 1227.01 1237.21 1255.27 1271.50 1279.65 1296.10 1306.07 1322.55" y="837.8" font-size="29" font-weight="700">Methylated</text>
<text x="1185.53 1204.28 1219.81 1230.71 1240.59 1248.65 1264.79 1272.85 1280.92" y="892.3" font-size="29" font-weight="700">Partially</text>
<text x="1185.63 1211.08 1227.71 1238.12 1256.44 1272.84 1281.18 1297.81 1307.98 1324.71" y="926.4" font-size="29" font-weight="700">methylated</text>
<text x="1186.05 1207.05 1224.43 1249.66 1266.16 1276.42 1294.55 1310.83 1319.03 1335.53 1345.56 1362.11" y="980.5" font-size="29" font-weight="700">Unmethylated</text>
<text x="292.23 311.07 320.87 328.84" y="1465.0" font-size="29" font-weight="700">Pt 8</text>
<line x1="237.4" y1="1483.3" x2="395.8" y2="1483.3" stroke="#000" stroke-width="5.6"/>
<text transform="translate(281.80,1644.94) rotate(-90)" x="0.39 21.20 33.27 41.78 68.61 85.68 97.73" y="0" font-size="30" font-weight="700">Primary</text>
<text transform="translate(344.30,1644.94) rotate(-90)" x="-0.99 19.37 37.07 54.62" y="0" font-size="30" font-weight="700">Bone</text>
<text transform="translate(378.50,1644.91) rotate(-90)" x="-0.63 24.89 40.94 50.30 65.94 81.99 91.35 106.98 122.89 130.44" y="0" font-size="30" font-weight="700">metastasis</text>
<text x="629.33 648.17 657.97 665.94 681.94" y="1465.0" font-size="29" font-weight="700">Pt 16</text>
<line x1="585.0" y1="1483.3" x2="743.1" y2="1483.3" stroke="#000" stroke-width="5.6"/>
<text transform="translate(635.00,1644.94) rotate(-90)" x="0.39 21.20 33.27 41.78 68.61 85.68 97.73" y="0" font-size="30" font-weight="700">Primary</text>
<text transform="translate(694.60,1644.94) rotate(-90)" x="0.23 19.03 37.82 56.62" y="0" font-size="30" font-weight="700">Lung</text>
<text transform="translate(729.10,1644.91) rotate(-90)" x="-0.63 24.89 40.94 50.30 65.94 81.99 91.35 106.98 122.89 130.44" y="0" font-size="30" font-weight="700">metastasis</text>
<text x="983.99 1002.35 1011.84 1019.39 1034.84" y="1465.0" font-size="29" font-weight="700">Pt 21</text>
<line x1="937.9" y1="1483.3" x2="1096.8" y2="1483.3" stroke="#000" stroke-width="5.6"/>
<text transform="translate(987.50,1644.94) rotate(-90)" x="0.39 21.20 33.27 41.78 68.61 85.68 97.73" y="0" font-size="30" font-weight="700">Primary</text>
<text transform="translate(1050.40,1644.94) rotate(-90)" x="0.23 19.03 37.82 56.62" y="0" font-size="30" font-weight="700">Lung</text>
<text transform="translate(1084.70,1644.91) rotate(-90)" x="-0.63 24.89 40.94 50.30 65.94 81.99 91.35 106.98 122.89 130.44" y="0" font-size="30" font-weight="700">metastasis</text>
<rect x="234.4" y="1657.50" width="79.5" height="36.86" fill="#ffffff" stroke="#1a1a1a" stroke-width="2.9"/>
<rect x="313.9" y="1657.50" width="78.7" height="36.86" fill="#ffffff" stroke="#1a1a1a" stroke-width="2.9"/>
<rect x="234.4" y="1694.36" width="79.5" height="36.86" fill="#ffffff" stroke="#1a1a1a" stroke-width="2.9"/>
<rect x="313.9" y="1694.36" width="78.7" height="36.86" fill="#ffffff" stroke="#1a1a1a" stroke-width="2.9"/>
<rect x="234.4" y="1731.22" width="79.5" height="36.86" fill="#ffffff" stroke="#1a1a1a" stroke-width="2.9"/>
<rect x="313.9" y="1731.22" width="78.7" height="36.86" fill="#ffffff" stroke="#1a1a1a" stroke-width="2.9"/>
<rect x="234.4" y="1768.08" width="79.5" height="36.86" fill="#ffffff" stroke="#1a1a1a" stroke-width="2.9"/>
<rect x="313.9" y="1768.08" width="78.7" height="36.86" fill="#ffffff" stroke="#1a1a1a" stroke-width="2.9"/>
<rect x="234.4" y="1804.94" width="79.5" height="36.86" fill="#ffffff" stroke="#1a1a1a" stroke-width="2.9"/>
<rect x="313.9" y="1804.94" width="78.7" height="36.86" fill="#ffffff" stroke="#1a1a1a" stroke-width="2.9"/>
<rect x="234.4" y="1841.80" width="79.5" height="36.86" fill="#ffffff" stroke="#1a1a1a" stroke-width="2.9"/>
<rect x="313.9" y="1841.80" width="78.7" height="36.86" fill="#ffffff" stroke="#1a1a1a" stroke-width="2.9"/>
<rect x="234.4" y="1878.66" width="79.5" height="36.86" fill="#ffffff" stroke="#1a1a1a" stroke-width="2.9"/>
<rect x="313.9" y="1878.66" width="78.7" height="36.86" fill="#ffffff" stroke="#1a1a1a" stroke-width="2.9"/>
<rect x="234.4" y="1915.52" width="79.5" height="36.86" fill="#ffffff" stroke="#1a1a1a" stroke-width="2.9"/>
<rect x="313.9" y="1915.52" width="78.7" height="36.86" fill="#ffffff" stroke="#1a1a1a" stroke-width="2.9"/>
<rect x="234.4" y="1963.80" width="79.5" height="36.93" fill="#ffffff" stroke="#1a1a1a" stroke-width="2.9"/>
<rect x="313.9" y="1963.80" width="78.7" height="36.93" fill="#ffffff" stroke="#1a1a1a" stroke-width="2.9"/>
<rect x="234.4" y="2000.73" width="79.5" height="36.93" fill="#ffffff" stroke="#1a1a1a" stroke-width="2.9"/>
<rect x="313.9" y="2000.73" width="78.7" height="36.93" fill="#ffffff" stroke="#1a1a1a" stroke-width="2.9"/>
<rect x="234.4" y="2037.66" width="79.5" height="36.93" fill="#ffffff" stroke="#1a1a1a" stroke-width="2.9"/>
<rect x="313.9" y="2037.66" width="78.7" height="36.93" fill="#ffffff" stroke="#1a1a1a" stroke-width="2.9"/>
<rect x="234.4" y="2074.59" width="79.5" height="36.93" fill="#ffffff" stroke="#1a1a1a" stroke-width="2.9"/>
<rect x="313.9" y="2074.59" width="78.7" height="36.93" fill="#ffffff" stroke="#1a1a1a" stroke-width="2.9"/>
<text x="163.79 178.10 194.46 208.46" y="1684.5" font-size="24.6" font-weight="400" font-style="italic" stroke="#000" stroke-width="0.9">TP53</text>
<text x="172.42 191.10 208.46" y="1720.7" font-size="24.6" font-weight="400" font-style="italic" stroke="#000" stroke-width="0.9">RB1</text>
<text x="118.42 136.42 155.10 172.42 190.46 205.10" y="1759.8" font-size="24.6" font-weight="400" font-style="italic" stroke="#000" stroke-width="0.9">CDKN2A</text>
<text x="171.10 187.79 202.05" y="1796.3" font-size="24.6" font-weight="400" font-style="italic" stroke="#000" stroke-width="0.9">ATM</text>
<text x="137.10 154.42 172.42 191.10 208.46" y="1833.0" font-size="24.6" font-weight="400" font-style="italic" stroke="#000" stroke-width="0.9">BRCA2</text>
<text x="158.10 173.79 188.10 204.42" y="1869.3" font-size="24.6" font-weight="400" font-style="italic" stroke="#000" stroke-width="0.9">PTEN</text>
<text x="159.10 177.10 193.79 208.46" y="1906.3" font-size="24.6" font-weight="400" font-style="italic" stroke="#000" stroke-width="0.9">AKT1</text>
<text x="159.79 174.10 190.42 208.46" y="1943.0" font-size="24.6" font-weight="400" font-style="italic" stroke="#000" stroke-width="0.9">TSC1</text>
<text x="154.42 172.42 191.10 208.46" y="1992.1" font-size="24.6" font-weight="400" font-style="italic" stroke="#000" stroke-width="0.9">CDK4</text>
<text x="122.05 143.10 160.10 176.46 191.10 208.46" y="2029.4" font-size="24.6" font-weight="400" font-style="italic" stroke="#000" stroke-width="0.9">MAP2K4</text>
<text x="168.05 188.10 204.42" y="2065.7" font-size="24.6" font-weight="400" font-style="italic" stroke="#000" stroke-width="0.9">MYC</text>
<text x="122.42 139.73 157.79 172.42 190.42 208.46" y="2102.6" font-size="24.6" font-weight="400" font-style="italic" stroke="#000" stroke-width="0.9">NOTCH2</text>
<rect x="586.0" y="1657.50" width="78.7" height="36.86" fill="#ffffff" stroke="#1a1a1a" stroke-width="2.9"/>
<rect x="664.7" y="1657.50" width="79.7" height="36.86" fill="#ffffff" stroke="#1a1a1a" stroke-width="2.9"/>
<rect x="586.0" y="1694.36" width="78.7" height="36.86" fill="#ffffff" stroke="#1a1a1a" stroke-width="2.9"/>
<rect x="664.7" y="1694.36" width="79.7" height="36.86" fill="#ffffff" stroke="#1a1a1a" stroke-width="2.9"/>
<rect x="586.0" y="1731.22" width="78.7" height="36.86" fill="#ffffff" stroke="#1a1a1a" stroke-width="2.9"/>
<rect x="664.7" y="1731.22" width="79.7" height="36.86" fill="#ffffff" stroke="#1a1a1a" stroke-width="2.9"/>
<rect x="586.0" y="1768.08" width="78.7" height="36.86" fill="#ffffff" stroke="#1a1a1a" stroke-width="2.9"/>
<rect x="664.7" y="1768.08" width="79.7" height="36.86" fill="#00B0F0" stroke="#1a1a1a" stroke-width="2.9"/>
<rect x="586.0" y="1804.94" width="78.7" height="36.86" fill="#ffffff" stroke="#1a1a1a" stroke-width="2.9"/>
<rect x="664.7" y="1804.94" width="79.7" height="36.86" fill="#ffffff" stroke="#1a1a1a" stroke-width="2.9"/>
<rect x="586.0" y="1841.80" width="78.7" height="36.86" fill="#ffffff" stroke="#1a1a1a" stroke-width="2.9"/>
<rect x="664.7" y="1841.80" width="79.7" height="36.86" fill="#ffffff" stroke="#1a1a1a" stroke-width="2.9"/>
<rect x="586.0" y="1878.66" width="78.7" height="36.86" fill="#ffffff" stroke="#1a1a1a" stroke-width="2.9"/>
<rect x="664.7" y="1878.66" width="79.7" height="36.86" fill="#00B050" stroke="#1a1a1a" stroke-width="2.9"/>
<rect x="586.0" y="1915.52" width="78.7" height="36.86" fill="#00B0F0" stroke="#1a1a1a" stroke-width="2.9"/>
<rect x="664.7" y="1915.52" width="79.7" height="36.86" fill="#ffffff" stroke="#1a1a1a" stroke-width="2.9"/>
<rect x="586.0" y="1963.80" width="78.7" height="36.93" fill="#ffffff" stroke="#1a1a1a" stroke-width="2.9"/>
<rect x="664.7" y="1963.80" width="79.7" height="36.93" fill="#ffffff" stroke="#1a1a1a" stroke-width="2.9"/>
<rect x="586.0" y="2000.73" width="78.7" height="36.93" fill="#ffffff" stroke="#1a1a1a" stroke-width="2.9"/>
<rect x="664.7" y="2000.73" width="79.7" height="36.93" fill="#ffffff" stroke="#1a1a1a" stroke-width="2.9"/>
<rect x="586.0" y="2037.66" width="78.7" height="36.93" fill="#ffffff" stroke="#1a1a1a" stroke-width="2.9"/>
<rect x="664.7" y="2037.66" width="79.7" height="36.93" fill="#ffffff" stroke="#1a1a1a" stroke-width="2.9"/>
<rect x="586.0" y="2074.59" width="78.7" height="36.93" fill="#ffffff" stroke="#1a1a1a" stroke-width="2.9"/>
<rect x="664.7" y="2074.59" width="79.7" height="36.93" fill="#ffffff" stroke="#1a1a1a" stroke-width="2.9"/>
<text x="513.89 528.20 544.56 558.56" y="1684.5" font-size="24.6" font-weight="400" font-style="italic" stroke="#000" stroke-width="0.9">TP53</text>
<text x="522.52 541.20 558.56" y="1720.7" font-size="24.6" font-weight="400" font-style="italic" stroke="#000" stroke-width="0.9">RB1</text>
<text x="468.52 486.52 505.20 522.52 540.56 555.20" y="1759.8" font-size="24.6" font-weight="400" font-style="italic" stroke="#000" stroke-width="0.9">CDKN2A</text>
<text x="521.20 537.89 552.15" y="1796.3" font-size="24.6" font-weight="400" font-style="italic" stroke="#000" stroke-width="0.9">ATM</text>
<text x="487.20 504.52 522.52 541.20 558.56" y="1833.0" font-size="24.6" font-weight="400" font-style="italic" stroke="#000" stroke-width="0.9">BRCA2</text>
<text x="508.20 523.89 538.20 554.52" y="1869.3" font-size="24.6" font-weight="400" font-style="italic" stroke="#000" stroke-width="0.9">PTEN</text>
<text x="509.20 527.20 543.89 558.56" y="1906.3" font-size="24.6" font-weight="400" font-style="italic" stroke="#000" stroke-width="0.9">AKT1</text>
<text x="509.89 524.20 540.52 558.56" y="1943.0" font-size="24.6" font-weight="400" font-style="italic" stroke="#000" stroke-width="0.9">TSC1</text>
<text x="504.52 522.52 541.20 558.56" y="1992.1" font-size="24.6" font-weight="400" font-style="italic" stroke="#000" stroke-width="0.9">CDK4</text>
<text x="472.15 493.20 510.20 526.56 541.20 558.56" y="2029.4" font-size="24.6" font-weight="400" font-style="italic" stroke="#000" stroke-width="0.9">MAP2K4</text>
<text x="518.15 538.20 554.52" y="2065.7" font-size="24.6" font-weight="400" font-style="italic" stroke="#000" stroke-width="0.9">MYC</text>
<text x="472.52 489.83 507.89 522.52 540.52 558.56" y="2102.6" font-size="24.6" font-weight="400" font-style="italic" stroke="#000" stroke-width="0.9">NOTCH2</text>
<rect x="944.6" y="1657.50" width="78.3" height="36.86" fill="#00B0F0" stroke="#1a1a1a" stroke-width="2.9"/>
<rect x="1022.9" y="1657.50" width="80.8" height="36.86" fill="#00B0F0" stroke="#1a1a1a" stroke-width="2.9"/>
<rect x="944.6" y="1694.36" width="78.3" height="36.86" fill="#0070C0" stroke="#1a1a1a" stroke-width="2.9"/>
<rect x="1022.9" y="1694.36" width="80.8" height="36.86" fill="#ffffff" stroke="#1a1a1a" stroke-width="2.9"/>
<rect x="944.6" y="1731.22" width="78.3" height="36.86" fill="#ffffff" stroke="#1a1a1a" stroke-width="2.9"/>
<rect x="1022.9" y="1731.22" width="80.8" height="36.86" fill="#ffffff" stroke="#1a1a1a" stroke-width="2.9"/>
<rect x="944.6" y="1768.08" width="78.3" height="36.86" fill="#ffffff" stroke="#1a1a1a" stroke-width="2.9"/>
<rect x="1022.9" y="1768.08" width="80.8" height="36.86" fill="#ffffff" stroke="#1a1a1a" stroke-width="2.9"/>
<rect x="944.6" y="1804.94" width="78.3" height="36.86" fill="#ffffff" stroke="#1a1a1a" stroke-width="2.9"/>
<rect x="1022.9" y="1804.94" width="80.8" height="36.86" fill="#ffffff" stroke="#1a1a1a" stroke-width="2.9"/>
<rect x="944.6" y="1841.80" width="78.3" height="36.86" fill="#0070C0" stroke="#1a1a1a" stroke-width="2.9"/>
<rect x="1022.9" y="1841.80" width="80.8" height="36.86" fill="#ffffff" stroke="#1a1a1a" stroke-width="2.9"/>
<rect x="944.6" y="1878.66" width="78.3" height="36.86" fill="#ffffff" stroke="#1a1a1a" stroke-width="2.9"/>
<rect x="1022.9" y="1878.66" width="80.8" height="36.86" fill="#ffffff" stroke="#1a1a1a" stroke-width="2.9"/>
<rect x="944.6" y="1915.52" width="78.3" height="36.86" fill="#ffffff" stroke="#1a1a1a" stroke-width="2.9"/>
<rect x="1022.9" y="1915.52" width="80.8" height="36.86" fill="#ffffff" stroke="#1a1a1a" stroke-width="2.9"/>
<rect x="944.6" y="1963.80" width="78.3" height="36.93" fill="#ffffff" stroke="#1a1a1a" stroke-width="2.9"/>
<rect x="1022.9" y="1963.80" width="80.8" height="36.93" fill="#ffffff" stroke="#1a1a1a" stroke-width="2.9"/>
<rect x="944.6" y="2000.73" width="78.3" height="36.93" fill="#ffffff" stroke="#1a1a1a" stroke-width="2.9"/>
<rect x="1022.9" y="2000.73" width="80.8" height="36.93" fill="#ffffff" stroke="#1a1a1a" stroke-width="2.9"/>
<rect x="944.6" y="2037.66" width="78.3" height="36.93" fill="#ffffff" stroke="#1a1a1a" stroke-width="2.9"/>
<rect x="1022.9" y="2037.66" width="80.8" height="36.93" fill="#ffffff" stroke="#1a1a1a" stroke-width="2.9"/>
<rect x="944.6" y="2074.59" width="78.3" height="36.93" fill="#ffffff" stroke="#1a1a1a" stroke-width="2.9"/>
<rect x="1022.9" y="2074.59" width="80.8" height="36.93" fill="#ffffff" stroke="#1a1a1a" stroke-width="2.9"/>
<text x="863.89 878.20 894.56 908.56" y="1684.5" font-size="24.6" font-weight="400" font-style="italic" stroke="#000" stroke-width="0.9">TP53</text>
<text x="872.52 891.20 908.56" y="1720.7" font-size="24.6" font-weight="400" font-style="italic" stroke="#000" stroke-width="0.9">RB1</text>
<text x="818.52 836.52 855.20 872.52 890.56 905.20" y="1759.8" font-size="24.6" font-weight="400" font-style="italic" stroke="#000" stroke-width="0.9">CDKN2A</text>
<text x="871.20 887.89 902.15" y="1796.3" font-size="24.6" font-weight="400" font-style="italic" stroke="#000" stroke-width="0.9">ATM</text>
<text x="837.20 854.52 872.52 891.20 908.56" y="1833.0" font-size="24.6" font-weight="400" font-style="italic" stroke="#000" stroke-width="0.9">BRCA2</text>
<text x="858.20 873.89 888.20 904.52" y="1869.3" font-size="24.6" font-weight="400" font-style="italic" stroke="#000" stroke-width="0.9">PTEN</text>
<text x="859.20 877.20 893.89 908.56" y="1906.3" font-size="24.6" font-weight="400" font-style="italic" stroke="#000" stroke-width="0.9">AKT1</text>
<text x="859.89 874.20 890.52 908.56" y="1943.0" font-size="24.6" font-weight="400" font-style="italic" stroke="#000" stroke-width="0.9">TSC1</text>
<text x="854.52 872.52 891.20 908.56" y="1992.1" font-size="24.6" font-weight="400" font-style="italic" stroke="#000" stroke-width="0.9">CDK4</text>
<text x="822.15 843.20 860.20 876.56 891.20 908.56" y="2029.4" font-size="24.6" font-weight="400" font-style="italic" stroke="#000" stroke-width="0.9">MAP2K4</text>
<text x="868.15 888.20 904.52" y="2065.7" font-size="24.6" font-weight="400" font-style="italic" stroke="#000" stroke-width="0.9">MYC</text>
<text x="822.52 839.83 857.89 872.52 890.52 908.56" y="2102.6" font-size="24.6" font-weight="400" font-style="italic" stroke="#000" stroke-width="0.9">NOTCH2</text>
<line x1="107.8" y1="1656.6" x2="107.8" y2="1955.0" stroke="#000" stroke-width="2.8"/>
<line x1="107.8" y1="1964.7" x2="107.8" y2="2116.0" stroke="#000" stroke-width="2.8"/>
<text transform="translate(91,1925.0) rotate(-90)" font-size="26.4" stroke="#000" stroke-width="0.7" textLength="232.0" lengthAdjust="spacing">Tumor-suppressors</text>
<text transform="translate(90.6,2104.8) rotate(-90)" font-size="26.4" stroke="#000" stroke-width="0.7">0ncogenes</text>
<rect x="1156.0" y="1804.0" width="18.3" height="20.3" fill="#00B0F0" stroke="#111" stroke-width="3"/>
<rect x="1156.0" y="1874.8" width="18.3" height="20.2" fill="#00B050" stroke="#111" stroke-width="3"/>
<rect x="1156.0" y="1945.2" width="18.3" height="20.3" fill="#0070C0" stroke="#111" stroke-width="3"/>
<text x="1187.20 1205.33 1216.21 1234.35 1252.29 1267.60 1284.74 1294.61 1302.87 1321.01 1336.53 1343.00 1368.17 1386.32 1395.38 1412.52 1422.39 1430.65 1448.79 1466.74" y="1822.6" font-size="29" font-weight="400" stroke="#000" stroke-width="0.9">Truncating mutations</text>
<text x="1185.72 1205.99 1227.68 1246.35 1270.47 1278.08 1297.77 1304.58 1325.46 1345.36 1355.40 1365.21 1382.28 1400.17 1408.19 1424.46 1433.48 1449.77 1459.58 1476.65" y="1874.6" font-size="29" font-weight="400" stroke="#000" stroke-width="0.9">COSMIC DB-registered</text>
<text x="1185.80 1211.56 1230.09 1239.52 1257.01 1267.14 1275.76 1294.40 1312.81" y="1908.4" font-size="29" font-weight="400" stroke="#000" stroke-width="0.9">mutations</text>
<text x="1185.03 1206.57 1223.70 1248.87 1265.80 1280.90 1297.21 1315.34 1333.47 1351.40 1364.70 1371.74 1388.86 1405.79 1413.03 1430.16 1440.03 1448.28 1466.41" y="1964.0" font-size="29" font-weight="400" stroke="#000" stroke-width="0.9">Homozygous deletion</text>
</svg>
</body></html>
